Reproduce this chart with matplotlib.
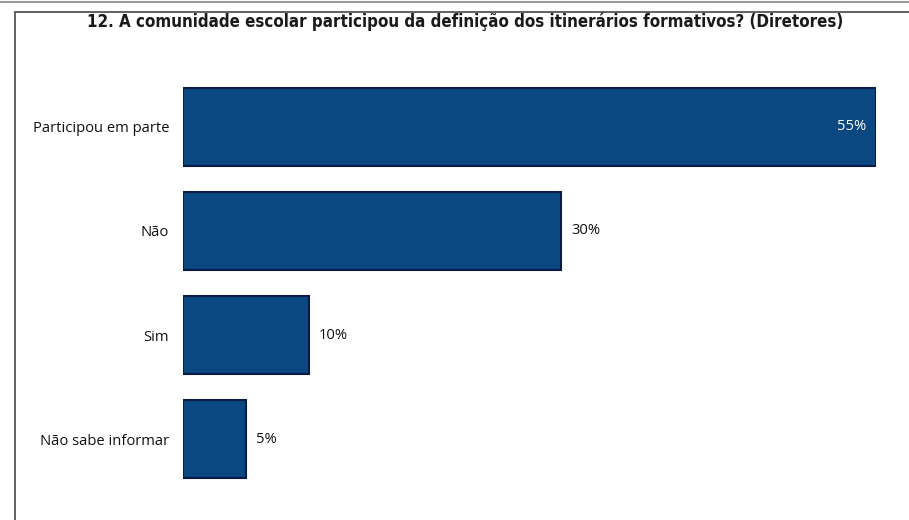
import matplotlib.pyplot as plt
from matplotlib.patches import Rectangle

categories = ["Participou em parte", "Não", "Sim", "Não sabe informar"]
values = [55, 30, 10, 5]
labels = ["55%", "30%", "10%", "5%"]

W, H = 909, 520
fig = plt.figure(figsize=(W / 100, H / 100), dpi=100)

# outer frame of the screenshot
fig.patches.append(Rectangle((15 / W, -0.05), 1.0, (H - 12) / H + 0.05, transform=fig.transFigure,
                             fill=False, edgecolor="#555555", linewidth=1.3))
fig.lines.append(plt.Line2D([0, 1], [1 - 2 / H, 1 - 2 / H], transform=fig.transFigure,
                            color="#999999", linewidth=1.5))

ax = fig.add_axes([183 / W, 1 - 491.5 / H, (876 - 183) / W, (491.5 - 74.5) / H])
y = range(len(categories))
ax.barh(y, values, height=0.75, color="#0b4781", edgecolor="#0a1c45", linewidth=1.5)
ax.set_xlim(0, 55)
ax.set_ylim(len(categories) - 0.5, -0.5)
ax.set_yticks(list(y))
ax.set_yticklabels(categories, fontsize=10.6, family="Open Sans", color="#111111")
ax.tick_params(axis="y", length=0, pad=10)
ax.set_xticks([])
for s in ax.spines.values():
    s.set_visible(False)

for i, (v, lab) in enumerate(zip(values, labels)):
    if i == 0:
        ax.text(v - 0.75, i, lab, ha="right", va="center", color="white",
                fontsize=10.6, family="Open Sans")
    else:
        ax.text(v + 0.8, i, lab, ha="left", va="center", color="#111111",
                fontsize=10.6, family="Open Sans")

fig.text(465 / W, 1 - 22 / H,
         "12. A comunidade escolar participou da definição dos itinerários formativos? (Diretores)",
         ha="center", va="center", fontsize=12.2, fontweight="bold", fontstretch="condensed",
         family="DejaVu Sans", color="#1a1a1a")

fig.savefig("out.png", dpi=100)
